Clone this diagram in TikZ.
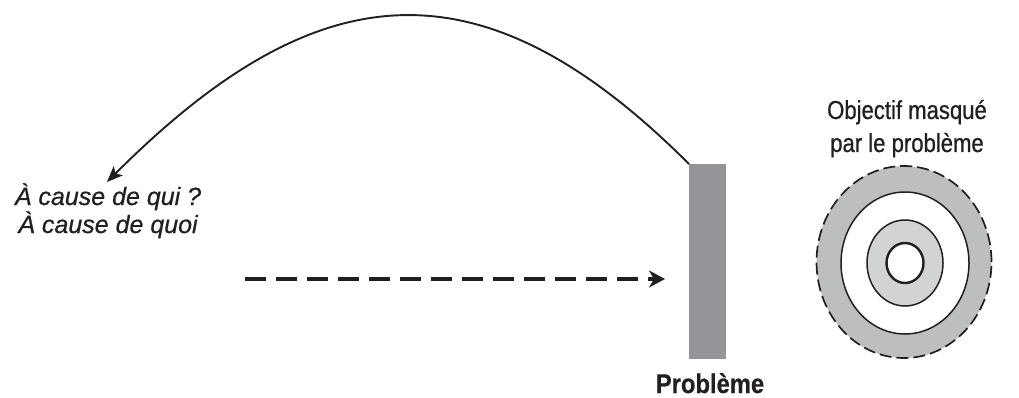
\documentclass[tikz,border=0pt]{standalone}
\usepackage{fontspec}
\setmainfont{Liberation Sans}
\newfontfamily\condfont[FakeStretch=0.85,FakeBold=0.7]{Liberation Sans}
\newfontfamily\boldcond[FakeStretch=0.88,FakeBold=0.5]{Liberation Sans Bold}
\newfontfamily\italfont[FakeBold=0.7]{Liberation Sans Italic}
\usetikzlibrary{arrows.meta,shapes.geometric}
\definecolor{ink}{HTML}{231F20}
\definecolor{bargray}{HTML}{939598}
\definecolor{bandgray}{HTML}{BCBEC0}
\definecolor{ringgray}{HTML}{D1D3D4}
\tikzset{
  ring/.style={ellipse, inner sep=0pt, draw=ink, line width=1.5pt},
  lbl/.style={text=ink, inner sep=0pt, align=center},
}
\begin{document}
\begin{tikzpicture}[x=1pt,y=-1pt]
\useasboundingbox (0,0) rectangle (1019,398);
% problem bar
\node[fill=bargray, inner sep=0pt, minimum width=37pt, minimum height=195pt, anchor=north west] (bar) at (689,164) {};
\node[lbl, font=\boldcond\fontsize{27}{30}\selectfont, anchor=base] (problabel) at (710,393) {Problème};
% target
\node[ring, fill=bandgray, dash pattern=on 12pt off 5pt, line width=1.7pt, minimum width=175pt, minimum height=192pt] (t1) at (904,262) {};
\node[ring, fill=white, minimum width=128pt, minimum height=142pt] (t2) at (905,263) {};
\node[ring, fill=ringgray, minimum width=76pt, minimum height=86pt] (t3) at (905,263) {};
\node[ring, fill=white, line width=2.4pt, minimum width=37pt, minimum height=40pt] (t4) at (905,263) {};
\node[lbl, font=\condfont\fontsize{26}{33}\selectfont, anchor=base] (obj1) at (907,119) {Objectif masqué};
\node[lbl, font=\condfont\fontsize{26}{33}\selectfont, anchor=base] (obj2) at (907,152) {par le problème};
% left text
\node[lbl, font=\italfont\fontsize{25}{28}\selectfont, anchor=base] (q1) at (108,205) {À cause de qui ?};
\node[lbl, font=\italfont\fontsize{25}{28}\selectfont, anchor=base] (q2) at (108,233) {À cause de quoi};
% arcs and arrows
\coordinate (arctip) at (107,182);
\draw[ink, line width=1.9pt, -{Stealth[length=16pt,width=13pt,inset=4pt]}]
  (bar.north west) .. controls (480,-45) and (316,-27) .. (arctip);
\coordinate (dstart) at (245,279);
\coordinate (dend) at (665,279);
\draw[ink, line width=3.5pt, dash pattern=on 21pt off 10pt, -{Stealth[length=16pt,width=17pt,inset=5pt]}]
  (dstart) -- (dend);
\end{tikzpicture}
\end{document}
